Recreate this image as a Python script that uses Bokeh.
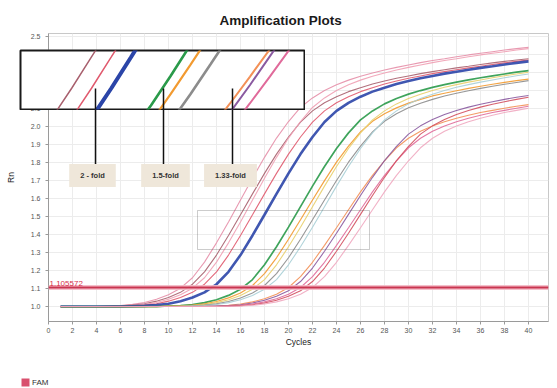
from bokeh.plotting import figure
from bokeh.models import (Range1d, FixedTicker, BoxAnnotation, Span, Label, Legend,
                          LegendItem, PrintfTickFormatter, GridBox)
from bokeh.embed import file_html
from bokeh.resources import INLINE

# ---------------- data ----------------
cycles = list(range(1, 41))
threshold = 1.105572

rn_A1 = [1.000, 1.000, 1.000, 1.000, 1.003, 1.006, 1.012, 1.023, 1.041, 1.066,
         1.102, 1.160, 1.247, 1.354, 1.470, 1.592, 1.713, 1.829, 1.936, 2.028,
         2.106, 2.159, 2.200, 2.232, 2.258, 2.279, 2.298, 2.314, 2.329, 2.342,
         2.355, 2.367, 2.377, 2.388, 2.398, 2.407, 2.416, 2.425, 2.433, 2.440]
rn_A2 = [1.000, 1.000, 1.000, 1.000, 1.002, 1.004, 1.008, 1.016, 1.030, 1.050,
         1.079, 1.124, 1.193, 1.286, 1.395, 1.510, 1.626, 1.740, 1.847, 1.942,
         2.025, 2.087, 2.132, 2.166, 2.194, 2.216, 2.236, 2.253, 2.268, 2.281,
         2.294, 2.305, 2.316, 2.326, 2.335, 2.345, 2.354, 2.362, 2.370, 2.377]
rn_A3 = [1.000, 1.000, 1.000, 1.000, 1.000, 1.003, 1.006, 1.012, 1.023, 1.041,
         1.066, 1.102, 1.160, 1.247, 1.354, 1.470, 1.592, 1.713, 1.829, 1.936,
         2.028, 2.106, 2.159, 2.200, 2.232, 2.258, 2.279, 2.298, 2.314, 2.329,
         2.342, 2.355, 2.367, 2.377, 2.388, 2.398, 2.407, 2.416, 2.425, 2.433]
rn_A4 = [1.000, 1.000, 1.000, 1.000, 1.000, 1.002, 1.004, 1.008, 1.016, 1.030,
         1.050, 1.079, 1.124, 1.193, 1.286, 1.395, 1.510, 1.626, 1.740, 1.847,
         1.942, 2.025, 2.087, 2.132, 2.166, 2.194, 2.216, 2.236, 2.253, 2.268,
         2.281, 2.294, 2.305, 2.316, 2.326, 2.335, 2.345, 2.354, 2.362, 2.370]
rn_A5 = [1.000, 1.000, 1.000, 1.000, 1.000, 1.000, 1.002, 1.004, 1.008, 1.016,
         1.030, 1.050, 1.079, 1.124, 1.193, 1.286, 1.395, 1.510, 1.626, 1.740,
         1.847, 1.942, 2.025, 2.087, 2.132, 2.166, 2.194, 2.216, 2.236, 2.253,
         2.268, 2.281, 2.294, 2.305, 2.316, 2.326, 2.335, 2.345, 2.354, 2.362]
rn_B1 = [1.000, 1.000, 1.000, 1.000, 1.000, 1.000, 1.000, 1.000, 1.000, 1.003,
         1.005, 1.011, 1.022, 1.038, 1.062, 1.096, 1.150, 1.232, 1.332, 1.441,
         1.555, 1.669, 1.778, 1.878, 1.965, 2.037, 2.087, 2.126, 2.156, 2.180,
         2.200, 2.218, 2.233, 2.247, 2.259, 2.271, 2.282, 2.292, 2.302, 2.311]
rn_B2 = [1.000, 1.000, 1.000, 1.000, 1.000, 1.000, 1.000, 1.000, 1.000, 1.002,
         1.004, 1.008, 1.015, 1.028, 1.048, 1.075, 1.117, 1.183, 1.271, 1.374,
         1.482, 1.592, 1.700, 1.802, 1.891, 1.970, 2.029, 2.071, 2.104, 2.130,
         2.151, 2.170, 2.185, 2.199, 2.212, 2.224, 2.235, 2.245, 2.255, 2.264]
rn_B3 = [1.000, 1.000, 1.000, 1.000, 1.000, 1.000, 1.000, 1.000, 1.000, 1.000,
         1.003, 1.005, 1.011, 1.022, 1.038, 1.062, 1.096, 1.150, 1.232, 1.332,
         1.441, 1.555, 1.669, 1.778, 1.878, 1.965, 2.037, 2.087, 2.126, 2.156,
         2.180, 2.200, 2.218, 2.233, 2.247, 2.259, 2.271, 2.282, 2.292, 2.302]
rn_B4 = [1.000, 1.000, 1.000, 1.000, 1.000, 1.000, 1.000, 1.000, 1.000, 1.000,
         1.002, 1.004, 1.008, 1.015, 1.028, 1.048, 1.075, 1.117, 1.183, 1.271,
         1.374, 1.482, 1.592, 1.700, 1.802, 1.891, 1.970, 2.029, 2.071, 2.104,
         2.130, 2.151, 2.170, 2.185, 2.199, 2.212, 2.224, 2.235, 2.245, 2.255]
rn_B5 = [1.000, 1.000, 1.000, 1.000, 1.000, 1.000, 1.000, 1.000, 1.000, 1.000,
         1.000, 1.003, 1.005, 1.011, 1.022, 1.038, 1.062, 1.096, 1.150, 1.232,
         1.332, 1.441, 1.555, 1.669, 1.778, 1.878, 1.965, 2.037, 2.087, 2.126,
         2.156, 2.180, 2.200, 2.218, 2.233, 2.247, 2.259, 2.271, 2.282, 2.292]
rn_C1 = [1.000, 1.000, 1.000, 1.000, 1.000, 1.000, 1.000, 1.000, 1.000, 1.000,
         1.000, 1.000, 1.002, 1.003, 1.007, 1.014, 1.026, 1.043, 1.068, 1.106,
         1.166, 1.246, 1.340, 1.438, 1.538, 1.637, 1.729, 1.810, 1.882, 1.935,
         1.974, 2.003, 2.027, 2.046, 2.063, 2.078, 2.090, 2.102, 2.113, 2.122]
rn_C2 = [1.000, 1.000, 1.000, 1.000, 1.000, 1.000, 1.000, 1.000, 1.000, 1.000,
         1.000, 1.000, 1.000, 1.003, 1.005, 1.010, 1.020, 1.035, 1.057, 1.088,
         1.139, 1.214, 1.307, 1.407, 1.512, 1.617, 1.718, 1.811, 1.890, 1.958,
         2.004, 2.039, 2.067, 2.089, 2.108, 2.124, 2.138, 2.151, 2.163, 2.173]
rn_C3 = [1.000, 1.000, 1.000, 1.000, 1.000, 1.000, 1.000, 1.000, 1.000, 1.000,
         1.000, 1.000, 1.000, 1.002, 1.003, 1.007, 1.014, 1.026, 1.043, 1.068,
         1.106, 1.166, 1.246, 1.340, 1.438, 1.538, 1.637, 1.729, 1.810, 1.882,
         1.935, 1.974, 2.003, 2.027, 2.046, 2.063, 2.078, 2.090, 2.102, 2.113]
rn_C4 = [1.000, 1.000, 1.000, 1.000, 1.000, 1.000, 1.000, 1.000, 1.000, 1.000,
         1.000, 1.000, 1.000, 1.000, 1.003, 1.005, 1.010, 1.020, 1.035, 1.057,
         1.088, 1.139, 1.214, 1.307, 1.407, 1.512, 1.617, 1.718, 1.811, 1.890,
         1.958, 2.004, 2.039, 2.067, 2.089, 2.108, 2.124, 2.138, 2.151, 2.163]
rn_C5 = [1.000, 1.000, 1.000, 1.000, 1.000, 1.000, 1.000, 1.000, 1.000, 1.000,
         1.000, 1.000, 1.000, 1.000, 1.002, 1.003, 1.007, 1.014, 1.026, 1.043,
         1.068, 1.106, 1.166, 1.246, 1.340, 1.438, 1.538, 1.637, 1.729, 1.810,
         1.882, 1.935, 1.974, 2.003, 2.027, 2.046, 2.063, 2.078, 2.090, 2.102]

well_names = ["A1", "A2", "A3", "A4", "A5", "B1", "B2", "B3", "B4", "B5",
              "C1", "C2", "C3", "C4", "C5"]
well_rn = [rn_A1, rn_A2, rn_A3, rn_A4, rn_A5, rn_B1, rn_B2, rn_B3, rn_B4, rn_B5,
           rn_C1, rn_C2, rn_C3, rn_C4, rn_C5]
well_colors = ["#e58fa8", "#a8606e", "#f0a0b4", "#e05a6e", "#2b45a8",
               "#2a9a4a", "#f29a30", "#e8cf6a", "#8c8c8c", "#a8cfd6",
               "#f39057", "#8a5aa0", "#e06a9a", "#d3505f", "#f0a8c0"]
well_widths = [1.1, 1.1, 1.1, 1.1, 2.6, 1.7, 1.2, 1.1, 1.1, 1.1,
               1.1, 1.1, 1.1, 1.1, 1.1]
inset_wells = ["A2", "A4", "A5", "B1", "B2", "B4", "C1", "C2", "C3"]
inset_widths = {"A2": 1.5, "A4": 1.5, "A5": 4.0, "B1": 2.6, "B2": 2.2, "B4": 2.6,
                "C1": 2.0, "C2": 2.0, "C3": 2.0}
fold_labels = ["2 - fold", "1.5-fold", "1.33-fold"]
x_ticks = list(range(0, 41, 2))
y_ticks = [1.0, 1.1, 1.2, 1.3, 1.4, 1.5, 1.6, 1.7, 1.8, 1.9, 2.0, 2.1, 2.2, 2.3, 2.4, 2.5]
title_text = "Amplification Plots"
dye_name = "FAM"
dye_color = "#d9506e"

# ---------------- layout geometry (pixels) ----------------
W, H = 557, 388
FL, FR, FT, FB = 48, 548, 33, 321
X0, X1 = 0.0, 500 / 12.0
Y0, Y1 = 0.917, 0.917 + 288 / 180.0


def xd(px):
    return X0 + (px - FL) * (X1 - X0) / (FR - FL)


def yd(py):
    return Y0 + (FB - py) * (Y1 - Y0) / (FB - FT)


# zoom window (data) and inset box (pixels)
ZX0, ZX1, ZY0, ZY1 = xd(197), xd(369), yd(249), yd(210)
IL, IR, IT, IB = 20, 304, 50, 109


def ixd(px):
    return ZX0 + (px - IL) * (ZX1 - ZX0) / (IR - IL)


def iyd(py):
    return ZY0 + (IB - py) * (ZY1 - ZY0) / (IB - IT)


FONT = "Liberation Sans"

# ================= main figure =================
p = figure(width=W, height=H, x_range=Range1d(X0, X1), y_range=Range1d(Y0, Y1),
           output_backend="svg", toolbar_location=None, sizing_mode="fixed",
           min_border_left=FL, min_border_right=W - FR,
           min_border_top=FT, min_border_bottom=H - FB)
p.outline_line_color = "#c8c8c8"
p.background_fill_color = "white"
p.border_fill_color = "white"

p.title.text = title_text
p.title.text_font = FONT
p.title.text_font_size = "13.5px"
p.title.text_font_style = "bold"
p.title.text_color = "#1a1a1a"
p.title.align = "left"
p.title.offset = 171
p.title.vertical_align = "top"
p.title.standoff = 8

for ax in (p.xaxis[0], p.yaxis[0]):
    ax.axis_line_color = "#9a9a9a"
    ax.major_tick_line_color = "#9a9a9a"
    ax.minor_tick_line_color = None
    ax.major_tick_out = 3
    ax.major_tick_in = 0
    ax.major_label_text_font = FONT
    ax.major_label_text_font_size = "7px"
    ax.major_label_text_color = "#555555"
    ax.axis_label_text_font = FONT
    ax.axis_label_text_font_size = "8.5px"
    ax.axis_label_text_font_style = "normal"
    ax.axis_label_text_color = "#222222"

p.xaxis.ticker = FixedTicker(ticks=x_ticks)
p.yaxis.ticker = FixedTicker(ticks=y_ticks)
p.yaxis.formatter = PrintfTickFormatter(format="%.1f")
p.xaxis.axis_label = "Cycles"
p.yaxis.axis_label = "Rn"
p.xaxis.major_label_standoff = 3
p.yaxis.major_label_standoff = 5
p.xaxis.axis_label_standoff = 1
p.yaxis.axis_label_standoff = 12

p.xgrid.ticker = FixedTicker(ticks=x_ticks)
p.ygrid.ticker = FixedTicker(ticks=y_ticks)
p.grid.grid_line_color = "#ececec"
p.grid.grid_line_width = 1

for name, rn, col, lw in zip(well_names, well_rn, well_colors, well_widths):
    p.line(cycles, rn, line_color=col, line_width=lw, line_alpha=0.9)

p.add_layout(Span(location=threshold, dimension="width", line_color="#f3b9c5",
                  line_width=5, line_alpha=0.9))
p.add_layout(Span(location=threshold, dimension="width", line_color="#c93550",
                  line_width=2))
p.add_layout(Label(x=xd(FL + 1), y=threshold, y_offset=2, text=f"{threshold:.6f}",
                   text_font=FONT, text_font_size="8px", text_color="#d8304a",
                   text_baseline="bottom", text_align="left"))

p.add_layout(BoxAnnotation(left=ZX0, right=ZX1, bottom=ZY0, top=ZY1,
                           fill_alpha=0, line_color="#555555", line_width=1))

call_px = [95, 163, 232]
lab_px = [92, 165, 230]
p.segment(x0=[xd(v) for v in call_px], y0=[yd(IB)] * 3,
          x1=[xd(v) for v in call_px], y1=[yd(164)] * 3,
          line_color="#111111", line_width=1.5)
for txt, lx in zip(fold_labels, lab_px):
    p.add_layout(Label(x=xd(lx), y=yd(175), text=txt, text_align="center",
                       text_baseline="middle", text_font=FONT, text_font_size="7.5px",
                       text_font_style="bold", text_color="#333333",
                       background_fill_color="#efe7da", padding=(11, 7)))

# ================= magnified inset =================
inset = figure(width=IR - IL + 2, height=IB - IT + 2, title=None,
               x_range=Range1d(ZX0, ZX1), y_range=Range1d(ZY0, ZY1),
               x_axis_type=None, y_axis_type=None,
               output_backend="svg", toolbar_location=None, sizing_mode="fixed",
               min_border=1, min_border_left=1, min_border_right=1,
               min_border_top=1, min_border_bottom=1)
inset.outline_line_color = "#1a1a1a"
inset.outline_line_width = 2
inset.background_fill_color = "white"
inset.border_fill_color = "white"
for name, rn, col in zip(well_names, well_rn, well_colors):
    if name in inset_wells:
        inset.line(cycles, rn, line_color=col, line_width=inset_widths[name])
inset.segment(x0=[ixd(v) for v in call_px], y0=[iyd(88)] * 3,
              x1=[ixd(v) for v in call_px], y1=[iyd(IB + 2)] * 3,
              line_color="#111111", line_width=1.5)

# ================= dye legend layer (transparent) =================
LH = H - 110
legfig = figure(width=305, height=LH, x_range=Range1d(0, 305), y_range=Range1d(0, LH),
                title=None, x_axis_type=None, y_axis_type=None, output_backend="svg",
                toolbar_location=None, sizing_mode="fixed",
                min_border=1, min_border_left=1, min_border_right=1,
                min_border_top=1, min_border_bottom=1)
legfig.outline_line_color = None
legfig.background_fill_alpha = 0
legfig.border_fill_alpha = 0
# swatch renderer kept outside the visible range; only its legend glyph shows
sw = legfig.quad(left=[-50], right=[-40], top=[-40], bottom=[-50], fill_color=dye_color,
                 line_alpha=0)
legfig.add_layout(Legend(items=[LegendItem(label=dye_name, renderers=[sw])],
                         location=(19, 0), glyph_width=10, glyph_height=10,
                         label_text_font=FONT, label_text_font_size="8px",
                         label_text_color="#333333", label_height=10,
                         padding=0, margin=0, spacing=0, label_standoff=2,
                         border_line_alpha=0, background_fill_alpha=0))

# grid tracks (zero-size edge tracks keep the small layers off the main frame edges):
# rows 0 | 0-49 | 49-110 | 110-373 | 373-388 | 0 ; cols 0 | 0-15 | 15-19 | 19-305 | 305-557 | 0
layout = GridBox(children=[(p, 0, 0, 6, 6),
                           (inset, 2, 3),
                           (legfig, 3, 1, 2, 3)],
                 rows=["0px", "49px", "61px", "263px", "15px", "0px"],
                 cols=["0px", "15px", "4px", "286px", "252px", "0px"],
                 spacing=0)

open("out.html", "w").write(file_html(layout, INLINE))
